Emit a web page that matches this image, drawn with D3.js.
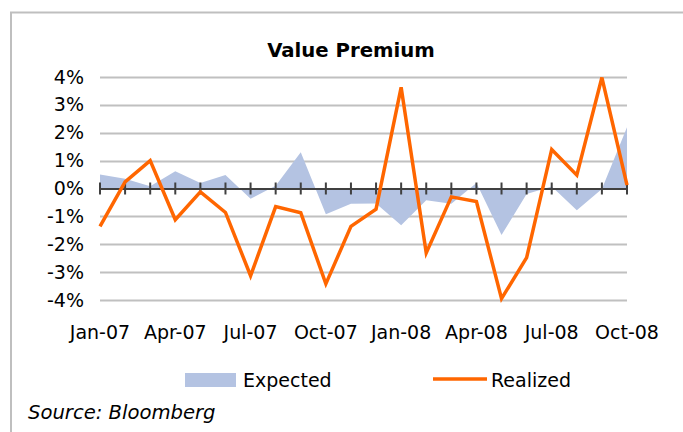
<!DOCTYPE html>
<html>
<head>
<meta charset="utf-8">
<script src="https://cdn.jsdelivr.net/npm/d3@7/dist/d3.min.js"></script>
<style>
  html, body { margin: 0; padding: 0; background: #fff; }
  svg { display: block; font-family: "DejaVu Sans", "Open Sans", sans-serif; }
</style>
</head>
<body>
<svg id="chart" width="683" height="432"></svg>
<script>
const months = ["Jan-07","Feb-07","Mar-07","Apr-07","May-07","Jun-07","Jul-07","Aug-07","Sep-07","Oct-07","Nov-07","Dec-07",
                "Jan-08","Feb-08","Mar-08","Apr-08","May-08","Jun-08","Jul-08","Aug-08","Sep-08","Oct-08"];
const expected = [0.5, 0.35, 0.08, 0.62, 0.2, 0.48, -0.37, 0.1, 1.3, -0.92, -0.55, -0.54,
                  -1.32, -0.42, -0.55, 0.2, -1.67, -0.2, 0.07, -0.78, -0.02, 2.2];
const realized = [-1.36, 0.24, 1.0, -1.12, -0.12, -0.86, -3.13, -0.65, -0.87, -3.42, -1.36, -0.74,
                  3.63, -2.31, -0.3, -0.47, -3.95, -2.48, 1.4, 0.48, 3.98, 0.12];
const tickLabels = ["Jan-07","Apr-07","Jul-07","Oct-07","Jan-08","Apr-08","Jul-08","Oct-08"];
const yTicks = [-4, -3, -2, -1, 0, 1, 2, 3, 4];

const FS = 19;
const svg = d3.select("#chart");
const x = d3.scalePoint().domain(months).range([100, 627]);
const y = d3.scaleLinear().domain([-4, 4]).range([300, 77]);

// frame
svg.append("path")
  .attr("d", "M11,440 L11,12.5 L690,12.5")
  .attr("fill", "none").attr("stroke", "#bfbfbf").attr("stroke-width", 2);

// title
svg.append("text").attr("x", 351).attr("y", 56.5).attr("text-anchor", "middle")
  .attr("font-size", 19.7).attr("font-weight", "bold").attr("fill", "#000")
  .text("Value Premium");

// gridlines
svg.append("g").selectAll("line").data(yTicks.filter(d => d !== 0)).join("line")
  .attr("x1", 100).attr("x2", 627)
  .attr("y1", d => Math.round(y(d)) + 0.5).attr("y2", d => Math.round(y(d)) + 0.5)
  .attr("stroke", "#c0c0c0").attr("stroke-width", 2);

// y labels
const yAxis = d3.axisLeft(y).tickValues(yTicks).tickFormat(d => d + "%").tickSize(0).tickPadding(0);
const gy = svg.append("g").attr("transform", "translate(84,0)").call(yAxis);
gy.select(".domain").remove();
gy.selectAll("text").attr("font-size", FS).attr("fill", "#000")
  .attr("font-family", "'DejaVu Sans', sans-serif");

// area
const area = d3.area().x((d, i) => x(months[i])).y0(y(0)).y1(d => y(d));
svg.append("path").datum(expected).attr("d", area).attr("fill", "#b4c3e2");

// zero axis with ticks
const xAxis = d3.axisBottom(x).tickSize(0).tickFormat("");
const gx = svg.append("g").attr("transform", `translate(0,${y(0)})`).call(xAxis);
gx.select(".domain").attr("stroke", "#404040").attr("stroke-width", 2);
svg.append("g").selectAll("line").data(months).join("line")
  .attr("x1", d => x(d)).attr("x2", d => x(d))
  .attr("y1", y(0) - 6).attr("y2", y(0) + 6)
  .attr("stroke", "#404040").attr("stroke-width", 2);

// realized line
const line = d3.line().x((d, i) => x(months[i])).y(d => y(d));
svg.append("path").datum(realized).attr("d", line)
  .attr("fill", "none").attr("stroke", "#ff6600").attr("stroke-width", 3.5)
  .attr("stroke-linejoin", "miter");

// x labels
svg.append("g").selectAll("text").data(tickLabels).join("text")
  .attr("x", d => x(d)).attr("y", 339).attr("text-anchor", "middle")
  .attr("font-size", FS).attr("fill", "#000").text(d => d);

// legend
svg.append("rect").attr("x", 185).attr("y", 373).attr("width", 51).attr("height", 14).attr("fill", "#b4c3e2");
svg.append("text").attr("x", 243).attr("y", 387).attr("font-size", FS).attr("fill", "#000").text("Expected");
svg.append("line").attr("x1", 433).attr("x2", 487).attr("y1", 379).attr("y2", 379)
  .attr("stroke", "#ff6600").attr("stroke-width", 3.5);
svg.append("text").attr("x", 491).attr("y", 387).attr("font-size", FS).attr("fill", "#000").text("Realized");

// source
svg.append("text").attr("x", 28).attr("y", 419).attr("font-size", 19.6).attr("font-style", "italic")
  .attr("fill", "#000").text("Source: Bloomberg");
</script>
</body>
</html>
